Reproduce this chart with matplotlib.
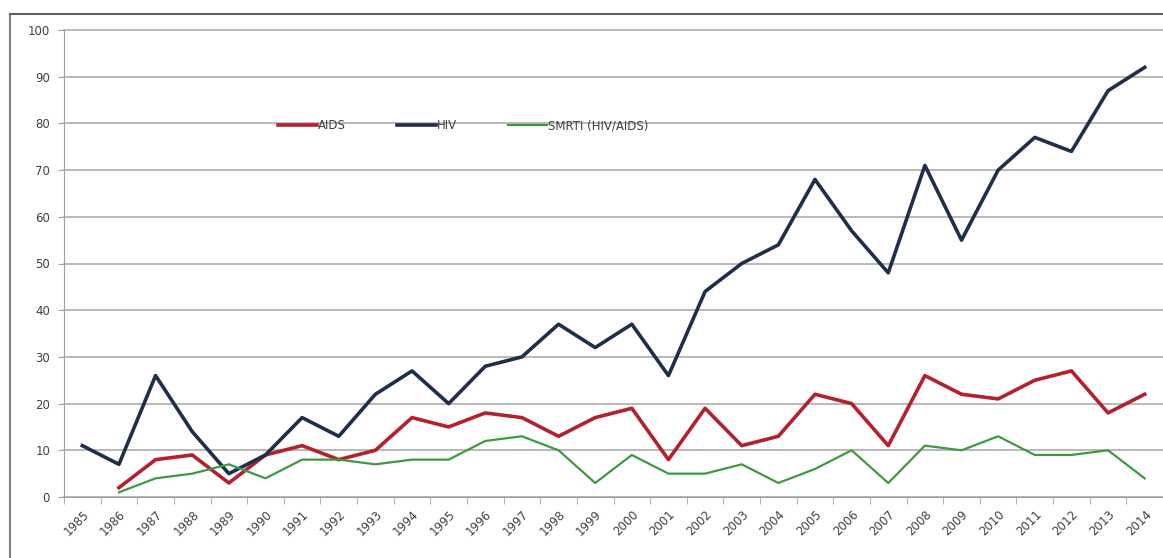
import numpy as np
import matplotlib.pyplot as plt
from matplotlib.lines import Line2D

# data
years = [str(y) for y in range(1985, 2015)]
hiv = [11, 7, 26, 14, 5, 9, 17, 13, 22, 27, 20, 28, 30, 37, 32, 37, 26, 44, 50, 54,
       68, 57, 48, 71, 55, 70, 77, 74, 87, 92]
aids = [np.nan, 2, 8, 9, 3, 9, 11, 8, 10, 17, 15, 18, 17, 13, 17, 19, 8, 19, 11, 13,
        22, 20, 11, 26, 22, 21, 25, 27, 18, 22]
smrti = [np.nan, 1, 4, 5, 7, 4, 8, 8, 7, 8, 8, 12, 13, 10, 3, 9, 5, 5, 7, 3,
         6, 10, 3, 11, 10, 13, 9, 9, 10, 4]

fig = plt.figure(figsize=(11.63, 5.58), dpi=100)
ax = fig.add_axes([64 / 1163, 1 - 497 / 558, 1099 / 1163, 467 / 558])

x = np.arange(len(years))
ax.plot(x, aids, color='#b3222c', lw=2.6, label='AIDS', zorder=3)
ax.plot(x, hiv, color='#1f2f4a', lw=2.6, label='HIV', zorder=3)
ax.plot(x, smrti, color='#3f9a3f', lw=1.6, label='SMRTI (HIV/AIDS)', zorder=3)

ax.set_xlim(-0.5, len(years) - 0.5)
ax.set_ylim(0, 100)
ax.set_yticks(range(0, 101, 10))
ax.yaxis.grid(True, color='#a6a6a6', lw=1.1, clip_on=False)
ax.set_axisbelow(True)

ax.set_xticks(x)
ax.set_xticklabels(years, rotation=45, ha='right', rotation_mode='anchor',
                   fontsize=8.5, color='#404040')
ax.set_xticks(np.arange(-0.5, len(years)), minor=True)
ax.tick_params(axis='x', which='major', length=0, pad=8)
ax.tick_params(axis='x', which='minor', length=5, color='#a0a0a0')
ax.tick_params(axis='y', length=4, color='#a0a0a0', labelsize=8.5, labelcolor='#404040', pad=6)

for s in ['top', 'right']:
    ax.spines[s].set_visible(False)
ax.spines['left'].set_color('#a0a0a0')
ax.spines['bottom'].set_color('#a0a0a0')

leg = ax.legend(loc='center', bbox_to_anchor=(0.363, 0.795), ncol=3, frameon=False,
                fontsize=8.5, handlelength=3.3, handletextpad=0.1, columnspacing=4.3)
for t in leg.get_texts():
    t.set_color('#404040')

# outer chart border
fig.add_artist(Line2D([10 / 1163, 10 / 1163], [0, 1 - 14 / 558], color='#808080', lw=1.5))
fig.add_artist(Line2D([10 / 1163, 1], [1 - 14 / 558, 1 - 14 / 558], color='#606060', lw=1.5))

fig.savefig('out.png', dpi=100)
